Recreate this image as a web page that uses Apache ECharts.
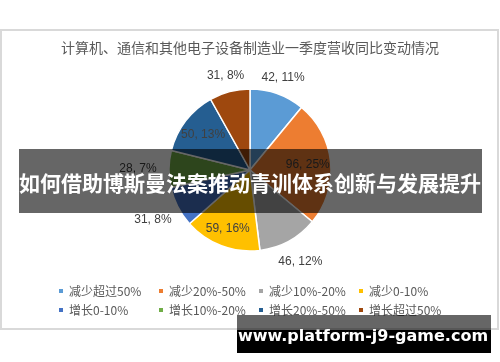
<!DOCTYPE html>
<html>
<head>
<meta charset="utf-8">
<script src="https://cdn.jsdelivr.net/npm/echarts@6/dist/echarts.min.js"></script>
<style>html,body{margin:0;padding:0;background:#fff}#c{width:500px;height:362px}</style>
</head>
<body>
<div id="c"></div>
<script>
const titleText = '计算机、通信和其他电子设备制造业一季度营收同比变动情况';
const categories = ['减少超过50%', '减少20%-50%', '减少10%-20%', '减少0-10%', '增长0-10%', '增长10%-20%', '增长20%-50%', '增长超过50%'];
const values = [42, 96, 46, 59, 31, 28, 50, 31];
const percents = ['11%', '25%', '12%', '16%', '8%', '7%', '13%', '8%'];
const colors = ['#5B9BD5', '#ED7D31', '#A5A5A5', '#FFC000', '#4472C4', '#70AD47', '#255E91', '#9E480E'];
const bannerText = '如何借助博斯曼法案推动青训体系创新与发展提升';
const watermarkText = 'www.platform-j9-game.com';

// layout: distance of each label's centre from the pie centre (px)
const labelDistance = [95, 55, 102, 60, 106, 109, 56, 94];

const chart = echarts.init(document.getElementById('c'), null, {renderer: 'canvas'});
const cjk = '"Noto Sans CJK SC", sans-serif';
const latin = '"Liberation Sans", Arial, sans-serif';

function labelSeries(k) {
  return {
    type: 'pie',
    center: [250, 170],
    radius: [0, labelDistance[k] * 2],
    startAngle: 90,
    clockwise: true,
    silent: true,
    legendHoverLink: false,
    avoidLabelOverlap: false,
    itemStyle: {color: 'rgba(0,0,0,0)', borderWidth: 0},
    labelLine: {show: false},
    emphasis: {disabled: true},
    data: categories.map((n, i) => ({
      name: n,
      value: values[i],
      label: {
        show: i === k,
        position: 'inside',
        formatter: values[i] + ', ' + percents[i],
        color: '#404040',
        fontSize: 12,
        fontFamily: latin
      }
    }))
  };
}

const series = [{
  type: 'pie',
  center: [250, 170],
  radius: [0, 81],
  startAngle: 90,
  clockwise: true,
  label: {show: false},
  labelLine: {show: false},
  itemStyle: {borderColor: '#fff', borderWidth: 1.5},
  data: categories.map((n, i) => ({name: n, value: values[i], itemStyle: {color: colors[i]}}))
}];
categories.forEach((_, k) => series.push(labelSeries(k)));

// legend: 4 columns x 2 rows, each column its own legend
const legends = [0, 1, 2, 3].map(c => ({
  data: [categories[c], categories[c + 4]],
  icon: 'rect',
  itemWidth: 6,
  itemHeight: 6,
  itemGap: 7,
  left: 57 + c * 100,
  top: 285,
  padding: 0,
  orient: 'vertical',
  selectedMode: false,
  textStyle: {fontSize: 12, color: '#595959', fontFamily: cjk}
}));

chart.setOption({
  animation: false,
  backgroundColor: '#fff',
  title: {
    text: titleText,
    left: 'center',
    top: 41,
    padding: 0,
    textStyle: {fontSize: 14, fontWeight: 'normal', color: '#595959', fontFamily: cjk}
  },
  legend: legends,
  series: series,
  graphic: [
    {type: 'rect', z: 0, shape: {x: 1, y: 30, width: 497, height: 299}, style: {fill: 'none', stroke: '#D9D9D9', lineWidth: 2}},
    {type: 'rect', z: 100, shape: {x: 19, y: 149, width: 463, height: 64}, style: {fill: 'rgba(0,0,0,0.6)'}},
    {type: 'text', z: 101, x: 250, y: 183, style: {text: bannerText, fill: '#fff', font: 'bold 21px ' + cjk, textAlign: 'center', textVerticalAlign: 'middle'}},
    {type: 'rect', z: 100, shape: {x: 237, y: 315, width: 254, height: 15}, style: {fill: 'rgba(0,0,0,0.6)'}},
    {type: 'rect', z: 100, shape: {x: 237, y: 330, width: 254, height: 23}, style: {fill: '#000'}},
    {type: 'text', z: 101, x: 363, y: 337, style: {text: watermarkText, fill: '#fff', font: 'bold 16px "DejaVu Sans", sans-serif', textAlign: 'center', textVerticalAlign: 'middle'}}
  ]
});
</script>
</body>
</html>
